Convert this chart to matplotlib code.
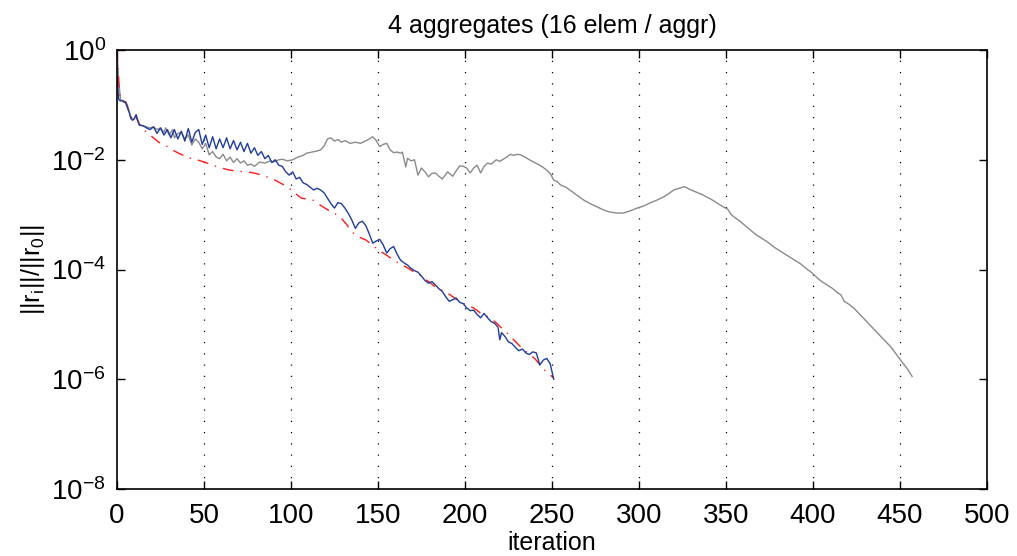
import numpy as np
import matplotlib.pyplot as plt

plt.rcParams['font.family'] = ['Liberation Sans', 'DejaVu Sans']
plt.rcParams['mathtext.fontset'] = 'custom'
plt.rcParams['mathtext.rm'] = 'Liberation Sans'

# values (log10 of relative residual)
it_blue = [0, 1, 2, 3, 4, 5, 6, 7, 8, 9, 10, 11, 12, 13, 15, 17, 19, 21, 23, 25,
           27, 29, 31, 33, 35, 37, 39, 41, 43, 45, 47, 49, 51, 53, 55, 57, 59, 61,
           63, 65, 67, 69, 71, 73, 75, 77, 79, 81, 83, 85, 87, 89, 91, 93, 95, 97,
           99, 101, 103, 105, 107, 109, 111, 113, 115, 117, 119, 121, 123, 125,
           127, 129, 131, 133, 135, 137, 139, 141, 143, 145, 147, 149, 151, 153,
           155, 157, 159, 161, 163, 165, 167, 169, 171, 173, 175, 177, 179, 181,
           183, 185, 187, 189, 191, 193, 195, 197, 199, 201, 203, 205, 207, 209,
           211, 213, 215, 217, 219, 220, 221, 223, 225, 227, 229, 231, 233, 235,
           237, 239, 241, 243, 245, 247, 249, 251]
lg_blue = [-0.47, -0.90, -0.93, -0.92, -0.95, -0.96, -1.05, -1.13, -1.25, -1.28,
           -1.25, -1.18, -1.30, -1.37, -1.38, -1.42, -1.45, -1.40, -1.52, -1.42,
           -1.55, -1.45, -1.60, -1.45, -1.62, -1.48, -1.66, -1.43, -1.68, -1.50,
           -1.45, -1.72, -1.55, -1.78, -1.58, -1.80, -1.62, -1.78, -1.60, -1.80,
           -1.65, -1.82, -1.68, -1.85, -1.70, -1.88, -1.78, -1.92, -1.85, -1.98,
           -1.92, -2.05, -2.00, -2.10, -2.12, -2.22, -2.28, -2.22, -2.35, -2.32,
           -2.42, -2.45, -2.50, -2.55, -2.52, -2.55, -2.60, -2.70, -2.80, -2.88,
           -2.78, -2.80, -2.88, -2.98, -3.10, -3.25, -3.15, -3.12, -3.20, -3.35,
           -3.52, -3.48, -3.45, -3.55, -3.70, -3.62, -3.58, -3.72, -3.83, -3.88,
           -3.92, -3.98, -4.02, -4.05, -4.12, -4.20, -4.25, -4.22, -4.28, -4.35,
           -4.40, -4.50, -4.58, -4.55, -4.52, -4.60, -4.62, -4.70, -4.75, -4.74,
           -4.82, -4.88, -4.80, -4.88, -4.95, -4.98, -5.05, -5.28, -5.15, -5.22,
           -5.32, -5.35, -5.42, -5.48, -5.45, -5.52, -5.55, -5.50, -5.52, -5.74,
           -5.65, -5.62, -5.72, -6.00]

it_red = [0, 1, 2, 3, 5, 7, 9, 11, 13, 15, 18, 21, 24, 27, 30, 33, 36, 39, 42,
          45, 48, 51, 55, 60, 65, 70, 75, 80, 84, 88, 92, 96, 99, 102, 106, 110,
          113, 117, 122, 125, 128, 132, 136, 140, 143, 147, 150, 155, 160, 164,
          167, 170, 173, 177, 180, 183, 187, 190, 195, 198, 201, 205, 210, 213,
          216, 219, 222, 225, 228, 232, 236, 240, 243, 246, 249, 251]
lg_red = [0.0, -0.60, -0.90, -0.92, -0.95, -1.12, -1.27, -1.20, -1.36, -1.45,
          -1.52, -1.60, -1.68, -1.72, -1.78, -1.84, -1.89, -1.93, -1.97, -1.99,
          -2.02, -2.05, -2.10, -2.15, -2.19, -2.21, -2.22, -2.25, -2.29, -2.33,
          -2.39, -2.46, -2.52, -2.60, -2.70, -2.72, -2.74, -2.83, -2.93, -2.98,
          -3.03, -3.18, -3.34, -3.42, -3.46, -3.56, -3.64, -3.74, -3.85, -3.92,
          -3.97, -4.03, -4.07, -4.17, -4.24, -4.32, -4.38, -4.43, -4.54, -4.60,
          -4.65, -4.70, -4.82, -4.86, -4.92, -5.00, -5.10, -5.18, -5.28, -5.41,
          -5.52, -5.62, -5.73, -5.84, -5.92, -5.98]

it_gray = [0, 1, 2, 3, 5, 6, 7, 8, 9, 10, 11, 12, 13, 15, 17, 19, 21, 23, 25, 27,
           28, 30, 32, 33, 35, 37, 39, 41, 43, 45, 47, 49, 51, 53, 55, 57, 59, 61,
           63, 65, 67, 69, 71, 73, 75, 77, 79, 82, 85, 88, 90, 93, 95, 98, 101,
           104, 107, 109, 112, 115, 117, 119, 121, 123, 125, 127, 129, 131, 134,
           137, 140, 142, 144, 146, 147, 149, 151, 153, 155, 157, 159, 161, 163,
           164, 166, 167, 169, 171, 173, 175, 177, 179, 181, 183, 185, 187, 190,
           193, 195, 197, 199, 201, 203, 205, 207, 209, 211, 213, 215, 218, 220,
           222, 224, 226, 228, 230, 232, 235, 237, 240, 243, 245, 247, 249, 251,
           253, 255, 258, 262, 265, 268, 272, 276, 280, 283, 287, 291, 295, 299,
           303, 306, 310, 314, 317, 320, 323, 326, 328, 330, 333, 336, 339, 342,
           345, 348, 351, 353, 355, 358, 361, 364, 367, 370, 374, 378, 381, 384,
           387, 390, 393, 396, 399, 402, 405, 408, 411, 414, 416, 418, 421, 424,
           427, 430, 433, 436, 439, 442, 445, 448, 451, 454, 457]
lg_gray = [0.0, -0.55, -0.90, -0.92, -0.94, -1.00, -1.12, -1.22, -1.27, -1.25,
           -1.18, -1.30, -1.36, -1.38, -1.40, -1.42, -1.40, -1.45, -1.42, -1.50,
           -1.42, -1.55, -1.45, -1.60, -1.52, -1.50, -1.62, -1.55, -1.73, -1.62,
           -1.68, -1.80, -1.70, -1.91, -1.85, -1.95, -1.98, -1.90, -2.02, -1.95,
           -2.05, -1.98, -2.06, -2.02, -2.10, -2.08, -2.12, -2.04, -2.06, -2.02,
           -2.04, -2.00, -1.99, -2.02, -2.00, -1.95, -1.92, -1.88, -1.86, -1.84,
           -1.82, -1.75, -1.62, -1.60, -1.66, -1.63, -1.68, -1.65, -1.70, -1.68,
           -1.70, -1.67, -1.64, -1.60, -1.58, -1.65, -1.76, -1.72, -1.70, -1.82,
           -1.87, -1.86, -1.88, -1.86, -2.13, -1.97, -2.02, -2.00, -2.28, -2.15,
           -2.22, -2.31, -2.25, -2.24, -2.30, -2.35, -2.22, -2.30, -2.20, -2.11,
           -2.12, -2.15, -2.24, -2.15, -2.10, -2.24, -2.12, -2.06, -2.08, -2.00,
           -2.03, -1.99, -1.95, -1.90, -1.92, -1.90, -1.91, -1.96, -2.00, -2.05,
           -2.10, -2.14, -2.19, -2.25, -2.37, -2.40, -2.46, -2.50, -2.59, -2.66,
           -2.73, -2.80, -2.86, -2.92, -2.95, -2.97, -2.97, -2.93, -2.88, -2.84,
           -2.79, -2.74, -2.68, -2.62, -2.55, -2.52, -2.49, -2.52, -2.55, -2.59,
           -2.63, -2.68, -2.73, -2.79, -2.85, -2.90, -3.00, -3.05, -3.12, -3.20,
           -3.28, -3.36, -3.42, -3.50, -3.60, -3.66, -3.72, -3.78, -3.84, -3.90,
           -3.98, -4.05, -4.14, -4.22, -4.28, -4.34, -4.42, -4.46, -4.58, -4.64,
           -4.72, -4.82, -4.92, -5.02, -5.12, -5.22, -5.32, -5.42, -5.55, -5.68,
           -5.80, -5.95]

f = plt.figure(figsize=(10.17, 5.56), dpi=100)
ax = f.add_axes([0.115, 0.1205, 0.8555, 0.7895])

ax.semilogy(it_gray, 10.0 ** np.array(lg_gray), color='#8a8a8a', lw=1.0)
ax.semilogy(it_red, 10.0 ** np.array(lg_red), color='#ff1a1a', lw=1.0,
            linestyle=(0, (8, 5, 1, 5)))
ax.semilogy(it_blue, 10.0 ** np.array(lg_blue), color='#1f3c9c', lw=1.0)

ax.set_xlim(0, 500)
ax.set_ylim(1e-8, 1e0)
ax.set_xticks(np.arange(0, 501, 50))
ax.set_yticks([1e0, 1e-2, 1e-4, 1e-6, 1e-8])
ax.minorticks_off()
ax.tick_params(direction='in', top=True, right=True, labelsize=20, length=6, width=1)
ax.tick_params(axis='x', pad=10)
ax.tick_params(axis='y', pad=8)
for x in range(50, 500, 50):
    ax.axvline(x, color='black', lw=0.9, linestyle=(0, (1, 8)), zorder=0)
for s in ax.spines.values():
    s.set_linewidth(1.2)

ax.set_title("4 aggregates (16 elem / aggr)", fontsize=18, pad=12)
ax.set_xlabel("iteration", fontsize=18, va='center')
ax.xaxis.set_label_coords(0.5, -0.123)
ax.set_ylabel(r"$\mathregular{||r_i||/||r_0||}$", fontsize=18, va='center')
ax.yaxis.set_label_coords(-0.097, 0.5)

plt.savefig("out.png", dpi=100)
